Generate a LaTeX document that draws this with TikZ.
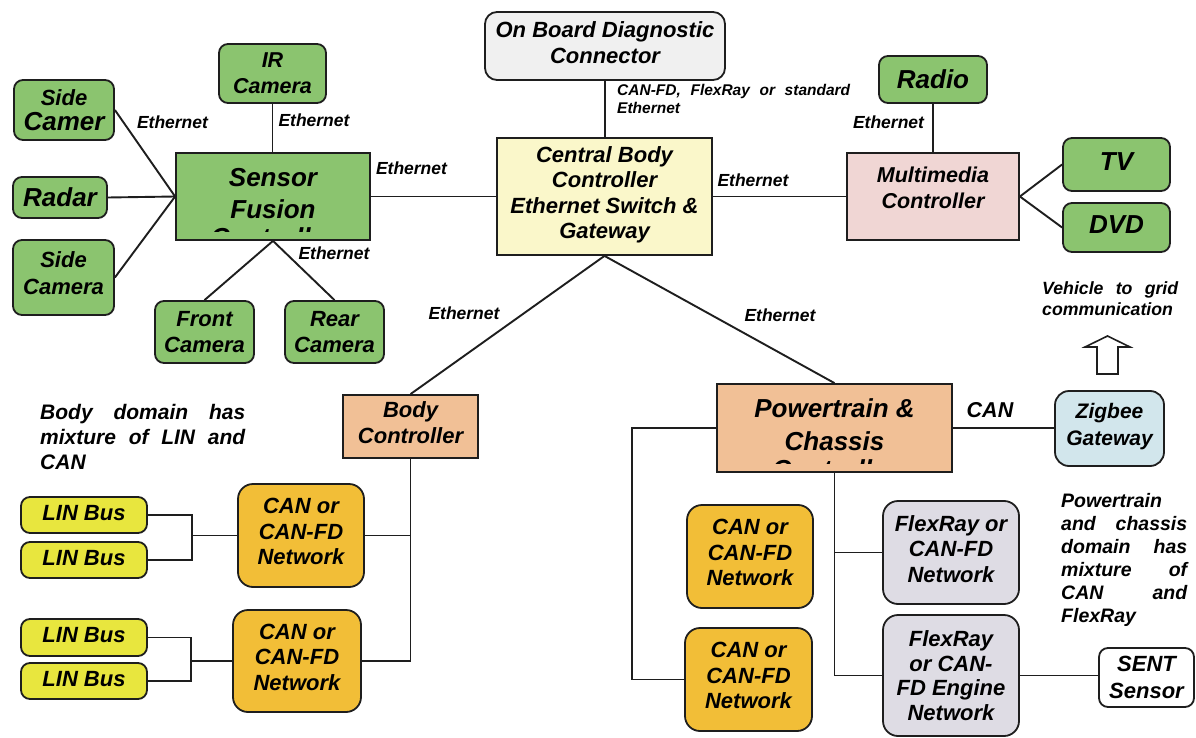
\documentclass[tikz,border=0pt]{standalone}
\usepackage{fontspec}
\setmainfont{Liberation Sans}
\newcommand\fs[2]{\fontsize{#1}{#2}\selectfont}
\definecolor{grn}{RGB}{139,196,111}
\definecolor{cby}{RGB}{250,247,202}
\definecolor{obdg}{RGB}{240,240,240}
\definecolor{mmp}{RGB}{240,214,212}
\definecolor{peach}{RGB}{241,192,150}
\definecolor{cano}{RGB}{242,190,55}
\definecolor{liny}{RGB}{232,230,62}
\definecolor{flxg}{RGB}{222,220,228}
\definecolor{zigb}{RGB}{210,230,236}
\definecolor{edge}{RGB}{30,30,30}
\begin{document}
\begin{tikzpicture}[x=1pt,y=-1pt,
  every node/.style={font=\bfseries\itshape},
  conn/.style={draw=edge, line width=1.9pt},
  box/.style={draw=edge, line width=1.8pt, align=center, inner sep=0pt,
    font=\bfseries\itshape\fs{22}{25.5}},
  st/.style={execute at begin node=\strut, execute at end node=\strut},
  rbox/.style={box, rounded corners=9pt},
  cbox/.style={box, st, rounded corners=15pt},
  txt/.style={align=center, inner sep=0pt},
  lbl/.style={inner sep=0pt, font=\bfseries\itshape\fs{17.5}{20}},
  para/.style={inner sep=0pt, anchor=north west, align=justify,
    execute at begin node={\hyphenpenalty=10000\tolerance=9999\relax}}
]
\path[use as bounding box, fill=white] (0,0) rectangle (1196,738);

% ---- sensor cluster ----
\node[rbox, fill=grn, minimum width=100, minimum height=60] (sidecamA) at (64,110)
  {\fs{22}{26}Side\\\fs{26}{28.5}Camer};
\node[rbox, fill=grn, minimum width=107, minimum height=59, font=\bfseries\itshape\fs{21.5}{26}] (ircam) at (272.5,73.5) {IR\\Camera};
\node[rbox, fill=grn, minimum width=94, minimum height=41, font=\bfseries\itshape\fs{26}{28}] (radar) at (60,197.5) {Radar};
\node[rbox, st, fill=grn, minimum width=101, minimum height=75, font=\bfseries\itshape\fs{22}{27}] (sidecamB) at (63.5,277.5) {Side\\Camera};
\node[rbox, fill=grn, minimum width=99, minimum height=62, font=\bfseries\itshape\fs{22}{26}] (frontcam) at (204.5,332) {Front\\Camera};
\node[rbox, fill=grn, minimum width=99, minimum height=62, font=\bfseries\itshape\fs{22}{26}] (rearcam) at (334.5,332) {Rear\\Camera};

\node[box, fill=grn, minimum width=194, minimum height=87] (sensor) at (273,196.5) {};
\node[txt, font=\bfseries\itshape\fs{26}{31.5}] (sensortxt) at (273,193.3) {Sensor\\Fusion};
\begin{scope}
  \clip (178,150) rectangle (368,231.5);
  \node[txt, font=\bfseries\itshape\fs{26}{30}] (sensorcut) at (273,237.3) {Controller};
\end{scope}

% ---- central gateway and diagnostics ----
\node[rbox, st, fill=obdg, minimum width=240, minimum height=68, rounded corners=12pt, font=\bfseries\itshape\fs{22}{26}] (obd) at (605,46)
  {On Board Diagnostic\\Connector};
\node[box, st, fill=cby, minimum width=215, minimum height=117] (central) at (604.5,196.5)
  {Central Body\\Controller\\Ethernet Switch \&\\Gateway};

% ---- multimedia ----
\node[box, fill=mmp, minimum width=172, minimum height=87] (mm) at (933,196.5) {};
\node[txt, font=\bfseries\itshape\fs{21.5}{26}] (mmtxt) at (933,188) {Multimedia\\Controller};
\node[rbox, fill=grn, minimum width=108, minimum height=47, font=\bfseries\itshape\fs{26}{28}] (radio) at (933,79.5) {Radio};
\node[rbox, st, fill=grn, minimum width=107, minimum height=53, font=\bfseries\itshape\fs{26}{32}] (tv) at (1116.5,164.5) {TV};
\node[rbox, st, fill=grn, minimum width=107, minimum height=49, font=\bfseries\itshape\fs{26}{28}] (dvd) at (1116.5,227.5) {DVD};

% ---- body domain ----
\node[box, st, fill=peach, minimum width=135, minimum height=63] (body) at (410.5,426.5) {Body\\Controller};
\node[rbox, st, fill=liny, minimum width=126, minimum height=36] (lin1) at (84,515) {LIN Bus};
\node[rbox, st, fill=liny, minimum width=126, minimum height=36] (lin2) at (84,560) {LIN Bus};
\node[rbox, st, fill=liny, minimum width=126, minimum height=37] (lin3) at (84,637.5) {LIN Bus};
\node[rbox, st, fill=liny, minimum width=126, minimum height=36] (lin4) at (84,681) {LIN Bus};
\node[cbox, fill=cano, minimum width=126, minimum height=103] (canA) at (301,535.5) {CAN or\\CAN-FD\\Network};
\node[cbox, fill=cano, minimum width=128, minimum height=102] (canB) at (297,661) {CAN or\\CAN-FD\\Network};

% ---- powertrain and chassis domain ----
\node[box, fill=peach, minimum width=235, minimum height=88] (ptc) at (834.5,428) {};
\node[txt, font=\bfseries\itshape\fs{26}{33}] (ptctxt) at (834.5,424.5) {Powertrain \&\\Chassis};
\begin{scope}
  \clip (719,380) rectangle (950,463.5);
  \node[txt, font=\bfseries\itshape\fs{26}{30}] (ptccut) at (834.5,469.3) {Controller};
\end{scope}
\node[rbox, st, fill=zigb, minimum width=109, minimum height=75, rounded corners=14pt, font=\bfseries\itshape\fs{21}{26.5}] (zig) at (1109.5,428.5) {Zigbee\\Gateway};
\node[cbox, fill=cano, minimum width=126, minimum height=103] (canC) at (750,556.5) {CAN or\\CAN-FD\\Network};
\node[cbox, fill=cano, minimum width=127, minimum height=103] (canD) at (748.5,679.5) {CAN or\\CAN-FD\\Network};
\node[cbox, fill=flxg, minimum width=136, minimum height=103] (fr1) at (951,552.5) {FlexRay or\\CAN-FD\\Network};
\node[box, rounded corners=15pt, fill=flxg, minimum width=136, minimum height=121, font=\bfseries\itshape\fs{22}{24.7}] (fr2) at (951,675.5) {FlexRay\\or CAN-\\FD Engine\\Network};
\node[rbox, fill=white, minimum width=95, minimum height=59, font=\bfseries\itshape\fs{22}{26.5}] (sent) at (1146.5,677.5) {SENT\\Sensor};

% ---- connectors: sensor cluster ----
\draw[conn] (sidecamA.east) -- (sensor.west);
\draw[conn] (radar.east) -- (sensor.west);
\draw[conn] (sidecamB.east) -- (sensor.west);
\draw[conn] (ircam.south) -- (ircam.south |- sensor.north);
\draw[conn] (frontcam.north) -- (sensor.south);
\draw[conn] (rearcam.north) -- (sensor.south);
\draw[conn] (sensor.east) -- (central.west);

% ---- connectors: gateway ----
\draw[conn] (obd.south) -- (obd.south |- central.north);
\draw[conn] (central.east) -- (mm.west);
\draw[conn] (radio.south) -- (mm.north);
\draw[conn] (mm.east) -- (tv.west);
\draw[conn] (mm.east) -- (dvd.west);
\draw[conn] (central.south) -- (body.north);
\draw[conn] (central.south) -- (ptc.north);

% ---- connectors: body domain ----
\coordinate (jA) at (192,0);
\coordinate (jB) at (191,0);
\draw[conn] (lin1.east) -| (jA |- lin2.east) -- (lin2.east);
\draw[conn] (jA |- canA.west) -- (canA.west);
\draw[conn] (lin3.east) -| (jB |- lin4.east) -- (lin4.east);
\draw[conn] (jB |- canB.west) -- (canB.west);
\draw[conn] (body.south) |- (canB.east);
\draw[conn] (canA.east) -- (body.south |- canA.east);

% ---- connectors: powertrain domain ----
\coordinate (pl) at (632,0);
\draw[conn] (ptc.west) -| (pl |- canD.west) -- (canD.west);
\draw[conn] (ptc.south) |- (fr2.west);
\draw[conn] (ptc.south |- fr1.west) -- (fr1.west);
\draw[conn] (fr2.east) -- (fr2.east -| sent.west);
\draw[conn] (ptc.east) -- (ptc.east -| zig.west);

% ---- vehicle to grid arrow ----
\draw[draw=edge, line width=1.6pt, fill=white]
  (1097,374) -- (1097,347) -- (1085,347) -- (1107.5,336) -- (1130,347)
  -- (1118,347) -- (1118,374) -- cycle;

% ---- link labels ----
\node[lbl] (l1) at (172.5,122) {Ethernet};
\node[lbl] (l2) at (314,120) {Ethernet};
\node[lbl] (l3) at (334,253) {Ethernet};
\node[lbl] (l4) at (411.5,168) {Ethernet};
\node[lbl] (l5) at (753,180) {Ethernet};
\node[lbl] (l6) at (888.5,122) {Ethernet};
\node[lbl] (l7) at (464,313) {Ethernet};
\node[lbl] (l8) at (780,315) {Ethernet};
\node[lbl, font=\bfseries\itshape\fs{21.5}{24}] (l9) at (990,410) {CAN};
\node[para, text width=233, font=\bfseries\itshape\fs{15.5}{18}] (obdlbl) at (617,84)
  {CAN-FD, FlexRay or standard Ethernet};

% ---- notes ----
\node[para, text width=136, font=\bfseries\itshape\fs{17.7}{20.5}] (v2g) at (1042,281.5)
  {Vehicle to grid communication};
\node[para, text width=205, font=\bfseries\itshape\fs{21}{25}] (bodynote) at (40,404)
  {Body domain has mixture of LIN and CAN};
\node[para, text width=126, font=\bfseries\itshape\fs{19.5}{23}] (ptcnote) at (1061,493)
  {Powertrain and chassis domain has mixture of CAN and FlexRay};
\end{tikzpicture}
\end{document}
